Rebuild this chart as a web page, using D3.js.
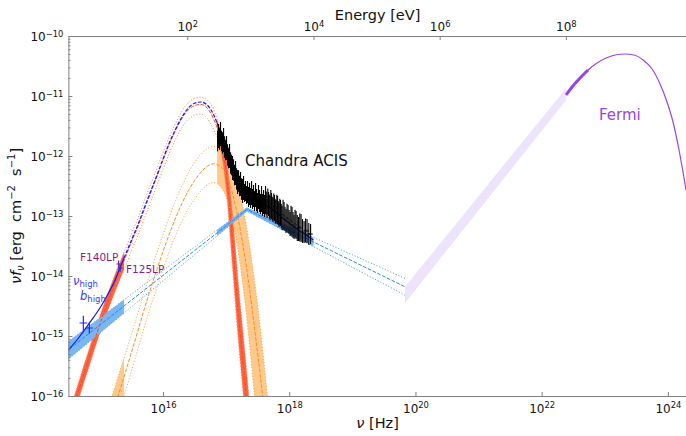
<!DOCTYPE html>
<html>
<head>
<meta charset="utf-8">
<script src="https://cdn.jsdelivr.net/npm/d3@7"></script>
<style>
  body { margin: 0; background: #fff; }
  text { font-family: "DejaVu Sans", sans-serif; }
</style>
</head>
<body>
<svg id="chart" width="686" height="436"></svg>
<script>
// all values are log10(nu / Hz) and log10(nu F_nu / erg cm^-2 s^-1)

// hot thermal component (red)
const redNu  = [14.5,14.6,14.7,14.8,14.9,15.0,15.1,15.2,15.3,15.4,15.5,15.6,15.7,15.8,15.9,16.0,16.1,16.2,16.3,16.4,16.5,16.6,16.7,16.8,16.9,17.0,17.1,17.2,17.3,17.4,17.5];
const redHi  = [-16.32,-15.98,-15.64,-15.31,-14.98,-14.66,-14.36,-14.08,-13.81,-13.56,-13.29,-13.04,-12.76,-12.48,-12.21,-11.94,-11.68,-11.45,-11.25,-11.11,-11.04,-11.02,-11.07,-11.22,-11.55,-12.00,-12.95,-14.20,-15.30,-16.50,-17.8];
const redMid = [-16.45,-16.12,-15.78,-15.45,-15.12,-14.80,-14.50,-14.22,-13.95,-13.70,-13.43,-13.18,-12.90,-12.62,-12.35,-12.07,-11.80,-11.57,-11.37,-11.23,-11.16,-11.14,-11.20,-11.38,-11.68,-12.27,-13.40,-14.70,-15.80,-17.00,-18.3];
const redLo  = [-16.60,-16.27,-15.93,-15.60,-15.27,-14.95,-14.65,-14.37,-14.10,-13.85,-13.58,-13.33,-13.05,-12.77,-12.50,-12.22,-11.95,-11.72,-11.52,-11.39,-11.32,-11.30,-11.37,-11.56,-11.83,-12.55,-13.85,-15.15,-16.30,-17.50,-18.8];

// warm thermal component (orange)
const orangeNu  = [15.0,15.1,15.2,15.3,15.4,15.5,15.6,15.7,15.8,15.9,16.0,16.1,16.2,16.3,16.4,16.5,16.6,16.7,16.8,16.9,17.0,17.1,17.2,17.3,17.4,17.5,17.6,17.7];
const orangeHi  = [-16.60,-16.28,-15.97,-15.64,-15.31,-14.97,-14.63,-14.28,-13.94,-13.62,-13.31,-13.01,-12.74,-12.50,-12.28,-12.11,-11.97,-11.88,-11.84,-11.85,-11.95,-12.18,-12.55,-13.05,-13.70,-14.50,-15.45,-16.5];
const orangeMid = [-16.95,-16.62,-16.30,-15.96,-15.62,-15.27,-14.92,-14.56,-14.22,-13.90,-13.59,-13.30,-13.03,-12.79,-12.58,-12.41,-12.27,-12.17,-12.13,-12.17,-12.30,-12.62,-13.10,-13.70,-14.45,-15.30,-16.20,-17.2];
const orangeLo  = [-17.30,-16.98,-16.64,-16.29,-15.94,-15.58,-15.22,-14.86,-14.52,-14.20,-13.89,-13.59,-13.32,-13.08,-12.88,-12.72,-12.58,-12.48,-12.44,-12.50,-12.68,-13.05,-13.65,-14.45,-15.45,-16.6,-17.8,-19.0];

// broken power law (light blue)
const plNu  = [14.45, 17.33, 19.835];
const plHi  = [-15.13, -12.86, -14.04];
const plMid = [-15.27, -12.89, -14.18];
const plLo  = [-15.43, -12.92, -14.32];

// total model (dark blue): UV fit range, gap, X-ray fit range
const totUvNu = [14.47, 14.685, 14.843, 15.002, 15.128, 15.239, 15.319, 15.382];
const totUvF  = [-15.27, -15.0, -14.77, -14.53, -14.30, -14.07, -13.86, -13.70];
const totGapNu = [15.382,15.5,15.6,15.7,15.8,15.9,16.0,16.1,16.2,16.3,16.4,16.5,16.6,16.7,16.8,16.856];
const totGapF  = [-13.70,-13.40,-13.15,-12.87,-12.60,-12.33,-12.05,-11.78,-11.55,-11.35,-11.20,-11.12,-11.10,-11.15,-11.31,-11.45];
const totXNu = [16.856,16.9,16.95,17.0,17.05,17.1,17.15,17.2,17.25,17.3,17.4,17.5,17.6,17.7,17.8,17.9,18.0,18.1,18.2,18.3,18.383];
const totXF  = [-11.45,-11.58,-11.74,-11.92,-12.10,-12.26,-12.40,-12.52,-12.61,-12.67,-12.73,-12.77,-12.81,-12.87,-12.95,-13.04,-13.12,-13.20,-13.27,-13.34,-13.40];

// gamma-ray: extrapolation band and Fermi model
const lavNu = [19.835, 22.387];
const lavHi = [-14.18, -10.87];
const lavLo = [-14.45, -11.07];
const fermiNu = [22.387,22.482,22.609,22.735,22.878,23.021,23.163,23.322,23.464,23.607,23.750,23.876,23.987,24.082,24.177,24.288];
const fermiF  = [-10.983,-10.85,-10.70,-10.567,-10.45,-10.367,-10.317,-10.30,-10.317,-10.40,-10.55,-10.80,-11.10,-11.433,-11.90,-12.567];

// Chandra ACIS spectrum: soft part (dense bins) and hard part
const chNu = [16.864,16.880,16.895,16.911,16.927,16.943,16.959,16.975,16.991,17.006,17.022,17.038,17.054,17.070,17.086,17.101,17.117,17.133,17.149,17.165,17.181,17.197,17.212,17.228,17.244,17.260,17.276,17.292,17.307,17.323,17.339,17.355,17.371,17.387,17.403,17.418,17.434,17.450,17.466,17.482,17.498,17.513,17.529,17.545,17.561,17.577,17.593,17.609,17.624];
const chF  = [-11.750,-11.667,-11.717,-11.633,-11.750,-11.783,-11.733,-11.850,-11.900,-11.867,-11.983,-12.033,-12.000,-12.117,-12.150,-12.200,-12.233,-12.317,-12.283,-12.383,-12.433,-12.417,-12.500,-12.467,-12.550,-12.583,-12.533,-12.617,-12.583,-12.650,-12.600,-12.683,-12.633,-12.700,-12.617,-12.717,-12.667,-12.750,-12.650,-12.733,-12.783,-12.683,-12.750,-12.800,-12.717,-12.817,-12.767,-12.833,-12.733];
const chErr = [0.17,0.2,0.18,0.2,0.17,0.18,0.2,0.18,0.17,0.2,0.18,0.17,0.2,0.18,0.17,0.2,0.18,0.17,0.2,0.18,0.2,0.18,0.17,0.2,0.18,0.2,0.2,0.15,0.167,0.15,0.183,0.167,0.183,0.167,0.2,0.167,0.183,0.167,0.2,0.183,0.167,0.2,0.183,0.167,0.217,0.183,0.2,0.183,0.233];
const chDnu = [0.01,0.01,0.01,0.01,0.01,0.01,0.01,0.01,0.01,0.01,0.01,0.01,0.01,0.01,0.01,0.01,0.01,0.01,0.01,0.01,0.01,0.01,0.01,0.01,0.01,0.01,0.01,0.01,0.01,0.01,0.01,0.01,0.01,0.01,0.01,0.01,0.01,0.01,0.01,0.01,0.01,0.01,0.01,0.01,0.01,0.01,0.01,0.01,0.01];
const chHardNu = [17.636,17.648,17.660,17.672,17.684,17.696,17.708,17.719,17.731,17.743,17.755,17.767,17.779,17.791,17.803,17.815,17.826,17.838,17.850,17.862,17.874,17.886,17.902,17.918,17.933,17.949,17.965,17.981,17.997,18.013,18.028,18.044,18.060,18.076,18.092,18.108,18.127,18.147,18.167,18.187,18.210,18.235,18.258,18.282,18.31,18.338];
const chHardF  = [-12.79,-12.850,-12.76,-12.800,-12.84,-12.867,-12.80,-12.833,-12.88,-12.900,-12.84,-12.867,-12.92,-12.933,-12.88,-12.900,-12.95,-12.983,-12.93,-12.950,-13.00,-13.033,-12.98,-13.000,-13.05,-13.083,-13.03,-13.050,-13.10,-13.133,-13.08,-13.100,-13.15,-13.183,-13.13,-13.150,-13.20,-13.217,-13.19,-13.200,-13.25,-13.267,-13.24,-13.250,-13.30,-13.300];
const chHardErr = [0.2,0.183,0.217,0.2,0.2,0.2,0.233,0.217,0.2,0.2,0.217,0.217,0.2,0.2,0.233,0.233,0.2,0.2,0.217,0.217,0.2,0.2,0.25,0.233,0.2,0.2,0.233,0.233,0.2,0.2,0.25,0.25,0.217,0.2,0.233,0.233,0.217,0.2,0.233,0.233,0.2,0.183,0.2,0.2,0.183,0.167];
const chHardDnu = [0.008,0.008,0.008,0.008,0.008,0.008,0.008,0.008,0.008,0.008,0.008,0.008,0.008,0.008,0.008,0.008,0.008,0.008,0.008,0.008,0.008,0.008,0.01,0.01,0.01,0.01,0.01,0.01,0.01,0.01,0.01,0.01,0.01,0.01,0.01,0.01,0.012,0.012,0.012,0.012,0.014,0.014,0.02,0.03,0.03,0.035];

// UV photometry
const uvNu  = [15.295, 15.32, 14.737, 14.832];
const uvF   = [-13.80, -13.87, -14.783, -14.867];
const uvErr = [0.06, 0.06, 0.12, 0.09];
const uvDnu = [0.035, 0.035, 0.06, 0.055];
const uvCol = ["#6a2a9a", "#3030c8", "#2424ff", "#2424ff"];

const xTicks = [16, 18, 20, 22, 24];
const eTicks = [2, 4, 6, 8];
const yTicks = [-16, -15, -14, -13, -12, -11, -10];

const hPlanck = 4.135667e-15; // eV s
const P = v => Math.pow(10, v);

const svg = d3.select("#chart");
const L = 68.4, R = 686.8, T = 36, B = 396;
const x = d3.scaleLog().domain([P(14.5), P(24.3)]).range([L, R]);
const xE = d3.scaleLog().domain([P(14.5) * hPlanck, P(24.3) * hPlanck]).range([L, R]);
const y = d3.scaleLog().domain([1e-16, 1e-10]).range([B, T]);

const defs = svg.append("defs");
defs.append("clipPath").attr("id", "plot").append("rect")
  .attr("x", L).attr("y", T).attr("width", R - L).attr("height", B - T);
const fitClip = defs.append("clipPath").attr("id", "fit");
fitClip.append("rect").attr("x", 0).attr("y", 0).attr("width", x(P(15.382))).attr("height", 436);
fitClip.append("rect").attr("x", x(P(16.856))).attr("y", 0).attr("width", 400).attr("height", 436);
const plClip = defs.append("clipPath").attr("id", "fitpl");
plClip.append("rect").attr("x", 0).attr("y", 0).attr("width", x(P(15.382))).attr("height", 436);
plClip.append("rect").attr("x", x(P(16.856))).attr("y", 0).attr("width", x(P(18.383)) - x(P(16.856))).attr("height", 436);

const lineOf = (nu, f, curve) => d3.line()
  .x((d, i) => x(P(nu[i]))).y((d, i) => y(P(f[i])))
  .curve(curve || d3.curveMonotoneX)(nu);
const areaOf = (nu, hi, lo, curve) => d3.area()
  .x((d, i) => x(P(nu[i]))).y0((d, i) => y(P(lo[i]))).y1((d, i) => y(P(hi[i])))
  .curve(curve || d3.curveMonotoneX)(nu);

const plot = svg.append("g").attr("clip-path", "url(#plot)");

// gamma-ray extrapolation band
plot.append("path").attr("d", areaOf(lavNu, lavHi, lavLo, d3.curveLinear))
  .attr("fill", "#ede3fa");

// shaded bands inside fitted ranges
const bands = plot.append("g").attr("clip-path", "url(#fit)");
bands.append("path").attr("d", areaOf(orangeNu, orangeHi, orangeLo)).attr("fill", "#ffc98c");
bands.append("path").attr("d", areaOf(redNu, redHi, redLo)).attr("fill", "#ff6440");
plot.append("g").attr("clip-path", "url(#fitpl)")
  .append("path").attr("d", areaOf(plNu, plHi, plLo, d3.curveLinear)).attr("fill", "#78b6f4");

// bounds and medians
const dotted = "1.2,1.8", dashed = "3.7,1.6";
[orangeHi, orangeLo].forEach(f =>
  plot.append("path").attr("d", lineOf(orangeNu, f)).attr("fill", "none")
    .attr("stroke", "#ffa845").attr("stroke-width", 1).attr("stroke-dasharray", dotted));
plot.append("path").attr("d", lineOf(orangeNu, orangeMid)).attr("fill", "none")
  .attr("stroke", "#ff8c1a").attr("stroke-width", 1).attr("stroke-dasharray", dashed);

[redHi, redLo].forEach(f =>
  plot.append("path").attr("d", lineOf(redNu, f)).attr("fill", "none")
    .attr("stroke", "#ff8a6c").attr("stroke-width", 1).attr("stroke-dasharray", dotted));
plot.append("path").attr("d", lineOf(redNu, redMid)).attr("fill", "none")
  .attr("stroke", "#ff4a1c").attr("stroke-width", 1).attr("stroke-dasharray", dashed);

[plHi, plLo].forEach(f =>
  plot.append("path").attr("d", lineOf(plNu, f, d3.curveLinear)).attr("fill", "none")
    .attr("stroke", "#55a6f6").attr("stroke-width", 1).attr("stroke-dasharray", dotted));
plot.append("path").attr("d", lineOf(plNu, plMid, d3.curveLinear)).attr("fill", "none")
  .attr("stroke", "#2f86e4").attr("stroke-width", 1).attr("stroke-dasharray", dashed);

// Fermi model
plot.append("path").attr("d", lineOf(fermiNu, fermiF)).attr("fill", "none")
  .attr("stroke", "#9a44e6").attr("stroke-width", 1.2);
plot.append("path").attr("d", lineOf(fermiNu.slice(0, 4), fermiF.slice(0, 4))).attr("fill", "none")
  .attr("stroke", "#9a44e6").attr("stroke-width", 3);

// total model under the data
plot.append("path").attr("d", lineOf(totXNu, totXF)).attr("fill", "none")
  .attr("stroke", "#1414ff").attr("stroke-width", 1.2);

// Chandra data
const data = plot.append("g").attr("stroke", "#000").attr("stroke-width", 1.1);
function errorBars(nu, f, err, dnu) {
  nu.forEach((n, i) => {
    data.append("line").attr("x1", x(P(n))).attr("x2", x(P(n)))
      .attr("y1", y(P(f[i] + err[i]))).attr("y2", y(P(f[i] - err[i])));
    data.append("line").attr("x1", x(P(n - dnu[i]))).attr("x2", x(P(n + dnu[i])))
      .attr("y1", y(P(f[i]))).attr("y2", y(P(f[i])));
  });
}
errorBars(chNu, chF, chErr, chDnu);
errorBars(chHardNu, chHardF, chHardErr, chHardDnu);

// total model in the UV and between the fitted ranges
plot.append("path").attr("d", lineOf(totUvNu, totUvF)).attr("fill", "none")
  .attr("stroke", "#1414ff").attr("stroke-width", 1.2);
plot.append("path").attr("d", lineOf(totGapNu, totGapF)).attr("fill", "none")
  .attr("stroke", "#1414ff").attr("stroke-width", 1.2).attr("stroke-dasharray", dashed);

// UV points
uvNu.forEach((n, i) => {
  const g = plot.append("g").attr("stroke", uvCol[i]).attr("stroke-width", 1.2);
  g.append("line").attr("x1", x(P(n))).attr("x2", x(P(n)))
    .attr("y1", y(P(uvF[i] + uvErr[i]))).attr("y2", y(P(uvF[i] - uvErr[i])));
  g.append("line").attr("x1", x(P(n - uvDnu[i]))).attr("x2", x(P(n + uvDnu[i])))
    .attr("y1", y(P(uvF[i]))).attr("y2", y(P(uvF[i])));
});

// axes
const axisCol = "#808080";
function supLabels(g, fmt) {
  g.selectAll(".tick text").each(function (d) {
    const t = d3.select(this);
    t.text("10");
    t.append("tspan").attr("dy", "-0.5em").attr("font-size", "0.7em").text(fmt(d));
  });
}
function styleAxis(g) {
  g.attr("font-family", null).attr("font-size", 12);
  g.select(".domain").attr("stroke", axisCol);
  g.selectAll(".tick line").attr("stroke", axisCol);
  g.selectAll(".tick text").attr("fill", "#111");
}
const exp = d => String(Math.round(Math.log10(d))).replace("-", "\u2212");

const gx = svg.append("g").attr("transform", `translate(0,${B})`)
  .call(d3.axisBottom(x).tickValues(xTicks.map(P)).tickSizeInner(-4).tickSizeOuter(0).tickPadding(8));
styleAxis(gx); supLabels(gx, exp);

const gt = svg.append("g").attr("transform", `translate(0,${T})`)
  .call(d3.axisTop(xE).tickValues(eTicks.map(P)).tickSizeInner(-4).tickSizeOuter(0).tickPadding(5));
styleAxis(gt); supLabels(gt, exp);

const gy = svg.append("g").attr("transform", `translate(${L},0)`)
  .call(d3.axisLeft(y).tickValues(yTicks.map(P)).tickSizeInner(-4).tickSizeOuter(0).tickPadding(5));
styleAxis(gy); supLabels(gy, exp);
gy.selectAll(".tick text").attr("dy", "0.4em");

const minor = [];
for (let e = -16; e < -10; e++) for (let k = 2; k < 10; k++) minor.push(k * P(e));
const gm = svg.append("g").attr("transform", `translate(${L},0)`)
  .call(d3.axisLeft(y).tickValues(minor).tickSizeInner(-2).tickSizeOuter(0).tickFormat(""));
gm.select(".domain").remove();
gm.selectAll(".tick line").attr("stroke", axisCol);

// axis titles
svg.append("text").attr("x", (L + R) / 2).attr("y", 20).attr("text-anchor", "middle")
  .attr("font-size", 14.5).attr("fill", "#111").text("Energy [eV]");
const xl = svg.append("text").attr("x", (L + R) / 2).attr("y", 428).attr("text-anchor", "middle")
  .attr("font-size", 14.5).attr("fill", "#111");
xl.append("tspan").attr("font-style", "italic").text("\u03bd");
xl.append("tspan").text(" [Hz]");

const yl = svg.append("text").attr("transform", "translate(21,216) rotate(-90)")
  .attr("text-anchor", "middle").attr("font-size", 14.5).attr("fill", "#111")
  .style("white-space", "pre");
yl.append("tspan").attr("font-style", "italic").text("\u03bdf");
yl.append("tspan").attr("font-style", "italic").attr("font-size", 10).attr("dy", 3).text("\u03bd");
yl.append("tspan").attr("dy", -3).text(" [erg  cm");
yl.append("tspan").attr("font-size", 10).attr("dy", -6).text("\u22122");
yl.append("tspan").attr("dy", 6).text("  s");
yl.append("tspan").attr("font-size", 10).attr("dy", -6).text("\u22121");
yl.append("tspan").attr("dy", 6).text("]");

// annotations
svg.append("text").attr("x", 245).attr("y", 166).attr("font-size", 15).attr("fill", "#111").text("Chandra ACIS");
svg.append("text").attr("x", 599).attr("y", 120).attr("font-size", 15).attr("fill", "#9a44e6").text("Fermi");
svg.append("text").attr("x", 80).attr("y", 261).attr("font-size", 10.5).attr("fill", "#8b1c8b").text("F140LP");
svg.append("text").attr("x", 126).attr("y", 273).attr("font-size", 10.5).attr("fill", "#8b1c8b").text("F125LP");
const nh = svg.append("text").attr("x", 73).attr("y", 285).attr("font-size", 11.5).attr("fill", "#3a3aff");
nh.append("tspan").attr("font-style", "italic").text("\u03bd");
nh.append("tspan").attr("font-size", 8.5).attr("dy", 2).text("high");
const bh = svg.append("text").attr("x", 80).attr("y", 300).attr("font-size", 11.5).attr("fill", "#3a3aff");
bh.append("tspan").attr("font-style", "italic").text("b");
bh.append("tspan").attr("font-size", 8.5).attr("dy", 2).text("high");
</script>
</body>
</html>
